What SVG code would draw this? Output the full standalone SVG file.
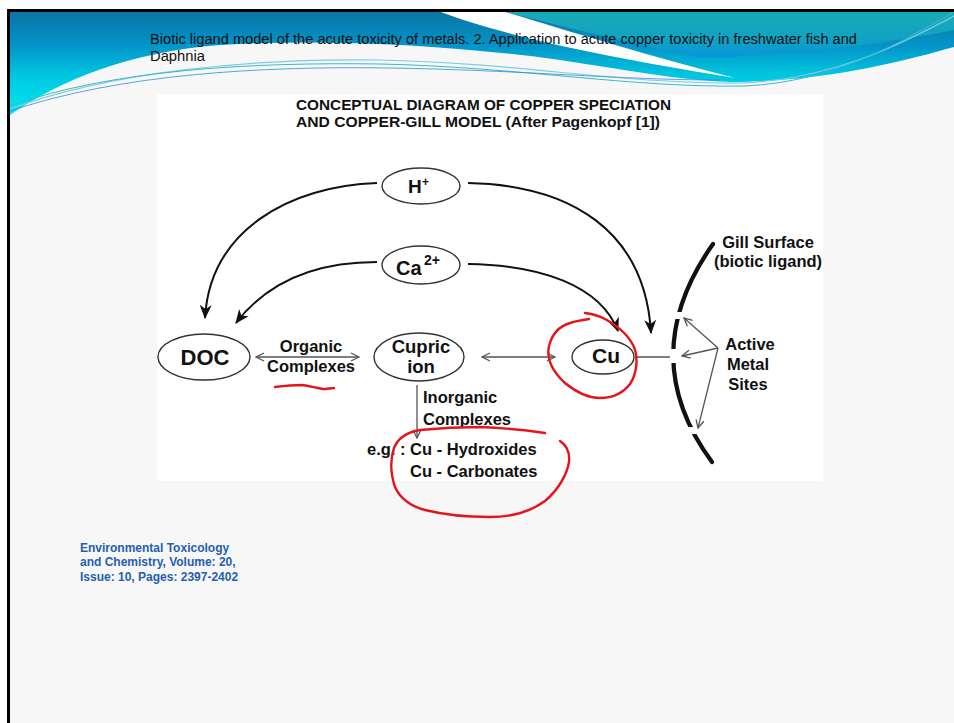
<svg xmlns="http://www.w3.org/2000/svg" width="954" height="723" viewBox="0 0 954 723">
<style>
text{font-family:"Liberation Sans",Arial,sans-serif;fill:#111}
.b{font-weight:bold}
.lbl{font-weight:bold;font-size:16.5px}
.node{fill:none;stroke:#333;stroke-width:1.4}
.curve{fill:none;stroke:#111;stroke-width:2;marker-end:url(#big)}
.thin{fill:none;stroke:#555;stroke-width:1.3}
.red{fill:none;stroke:#e5141a;stroke-width:2.4;stroke-linecap:round;stroke-linejoin:round}
.cite{font-weight:bold;font-size:12px;fill:#1f60b0}
</style>
<defs>
<linearGradient id="hdr" gradientUnits="userSpaceOnUse" x1="0" y1="11" x2="0" y2="112">
<stop offset="0" stop-color="#0a74a4"/>
<stop offset="0.35" stop-color="#0495c9"/>
<stop offset="0.62" stop-color="#00c4de"/>
<stop offset="1" stop-color="#00e8f2"/>
</linearGradient>
<linearGradient id="teal" gradientUnits="userSpaceOnUse" x1="0" y1="11" x2="0" y2="55">
<stop offset="0" stop-color="#19aab6"/>
<stop offset="0.55" stop-color="#12a4c0"/>
<stop offset="1" stop-color="#0a98d4"/>
</linearGradient>
<marker id="big" markerUnits="userSpaceOnUse" markerWidth="14" markerHeight="12" viewBox="0 0 14 12" refX="13" refY="6" orient="auto">
<path d="M0,0 L14,6 L0,12 L4,6 Z" fill="#111"/>
</marker>
<marker id="sm" markerUnits="userSpaceOnUse" markerWidth="10" markerHeight="10" viewBox="0 0 10 10" refX="9" refY="5" orient="auto-start-reverse">
<path d="M1,1 L9,5 L1,9" fill="none" stroke="#555" stroke-width="1.3"/>
</marker>
</defs>

<!-- slide background and frame -->
<rect x="0" y="0" width="954" height="723" fill="#ffffff"/>
<rect x="8" y="10" width="946" height="713" fill="#f7f7f7"/>

<!-- header swoosh -->
<g id="header">
<path d="M10,115 C60,80 130,52 220,45 C330,38 460,46 560,60 C640,72 690,82 740,82 C830,80 900,62 954,47 V11 H10 Z" fill="url(#hdr)"/>
<path d="M500,11 H954 V30 C880,45 790,55 700,58 C640,45 570,28 500,11 Z" fill="url(#teal)"/>
<path d="M438,11 L502,11 C565,30 645,55 735,78 C640,62 520,42 438,11 Z" fill="#ffffff"/>
<path d="M10,109 C110,72 250,58 380,60 C520,63 620,84 740,83 C830,80 900,45 954,16" fill="none" stroke="#7fcbe6" stroke-width="1.2"/>
<path d="M10,106 C110,70 250,62 380,64 C520,67 630,88 745,86 C835,82 905,40 954,12" fill="none" stroke="#3fb8c8" stroke-width="1"/>
<path d="M10,111 C120,74 260,66 390,68 C520,70 620,80 720,80" fill="none" stroke="#2f8fd0" stroke-width="0.8"/>
<text x="150" y="44" font-size="14" textLength="707" lengthAdjust="spacingAndGlyphs">Biotic ligand model of the acute toxicity of metals. 2. Application to acute copper toxicity in freshwater fish and</text>
<text x="150" y="61" font-size="14" textLength="55" lengthAdjust="spacingAndGlyphs">Daphnia</text>
</g>

<rect x="7" y="9" width="947" height="3" fill="#000"/>
<rect x="7" y="9" width="3" height="714" fill="#000"/>

<!-- diagram image area -->
<rect x="157" y="94" width="666" height="387" fill="#ffffff"/>
<text class="b" x="296" y="110" font-size="15" textLength="375" lengthAdjust="spacingAndGlyphs">CONCEPTUAL DIAGRAM OF COPPER SPECIATION</text>
<text class="b" x="296" y="127" font-size="15" textLength="364" lengthAdjust="spacingAndGlyphs">AND COPPER-GILL MODEL (After Pagenkopf [1])</text>

<!-- gill surface -->
<g id="gill">
<path d="M713,244 Q634,356 712,462" fill="none" stroke="#111" stroke-width="4.2" stroke-linecap="round"/>
<rect x="668" y="312" width="20" height="7" fill="#fff"/>
<rect x="662" y="349" width="22" height="14" fill="#fff"/>
<rect x="684" y="427" width="20" height="7" fill="#fff"/>
<text class="lbl" x="768" y="248" text-anchor="middle">Gill Surface</text>
<text class="lbl" x="768" y="267" text-anchor="middle">(biotic ligand)</text>
</g>

<!-- connectors -->
<g id="connectors">
<path class="curve" d="M377,183 C290,186 210,230 205,318"/>
<path class="curve" d="M377,262 C310,262 265,285 236,323"/>
<path class="curve" d="M468,183 C570,185 645,230 651,333"/>
<path class="curve" d="M468,264 C540,265 600,285 618,331"/>
<line class="thin" x1="256" y1="357" x2="359" y2="357" marker-start="url(#sm)" marker-end="url(#sm)"/>
<line class="thin" x1="482" y1="357" x2="555" y2="357" marker-start="url(#sm)" marker-end="url(#sm)"/>
<line class="thin" x1="635" y1="357" x2="670" y2="357"/>
<line class="thin" x1="417" y1="385" x2="417" y2="438" marker-end="url(#sm)"/>
<line class="thin" x1="718" y1="348" x2="684" y2="318" marker-end="url(#sm)"/>
<line class="thin" x1="718" y1="348" x2="682" y2="356" marker-end="url(#sm)"/>
<line class="thin" x1="718" y1="348" x2="698" y2="428" marker-end="url(#sm)"/>
</g>

<!-- nodes -->
<g id="node-h">
<ellipse class="node" cx="421" cy="186" rx="39" ry="18"/>
<text class="b" x="408" y="193" font-size="19">H</text>
<text class="b" x="422" y="186" font-size="12">+</text>
</g>
<g id="node-ca">
<ellipse class="node" cx="421" cy="265" rx="39" ry="19"/>
<text class="b" x="396" y="275" font-size="20">Ca</text>
<text class="b" x="424" y="265" font-size="14">2+</text>
</g>
<g id="node-doc">
<ellipse class="node" cx="204" cy="357" rx="46" ry="23"/>
<text class="b" x="205" y="365" font-size="22" text-anchor="middle">DOC</text>
</g>
<g id="node-cupric">
<ellipse class="node" cx="419" cy="357" rx="45" ry="24"/>
<text class="b" x="421" y="353" font-size="18.5" text-anchor="middle">Cupric</text>
<text class="b" x="421" y="373" font-size="18.5" text-anchor="middle">ion</text>
</g>
<g id="node-cu">
<ellipse class="node" cx="603" cy="357" rx="31" ry="17"/>
<text class="b" x="606" y="363" font-size="21" text-anchor="middle">Cu</text>
</g>

<!-- labels -->
<g id="label-organic">
<text class="lbl" x="311" y="352" text-anchor="middle">Organic</text>
<text class="lbl" x="311" y="372" text-anchor="middle">Complexes</text>
</g>
<g id="label-inorganic">
<text class="lbl" x="423" y="403">Inorganic</text>
<text class="lbl" x="423" y="425">Complexes</text>
<text class="lbl" x="367" y="455">e.g. : Cu - Hydroxides</text>
<text class="lbl" x="410" y="477">Cu - Carbonates</text>
</g>
<g id="label-active">
<text class="lbl" x="750" y="350" text-anchor="middle">Active</text>
<text class="lbl" x="748" y="370" text-anchor="middle">Metal</text>
<text class="lbl" x="748" y="390" text-anchor="middle">Sites</text>
</g>

<!-- red hand annotations -->
<g id="annotations">
<path class="red" d="M585,313 C592,314 600,316 605,319 C616,325 628,334 634,347 C639,360 636,375 630,384 C623,393 612,398 600,398 C588,398 576,392 565,383 C553,372 546,360 549,346 C552,334 560,326 570,323 C576,321 582,320 589,319"/>
<path class="red" d="M275,387 C283,386 292,385 302,385 C310,386 316,388 323,389 C327,389 331,388 334,388"/>
<path class="red" d="M545,433 C525,430 505,428 480,427 C460,427 440,428 420,430 C408,432 398,438 394,448 C390,460 391,475 395,487 C400,498 410,506 425,510 C445,515 465,517 490,517 C510,517 530,512 545,501 C558,490 567,475 569,462 C570,452 566,445 560,441"/>
</g>

<!-- citation -->
<g id="citation">
<text class="cite" x="80" y="552">Environmental Toxicology</text>
<text class="cite" x="80" y="566">and Chemistry, Volume: 20,</text>
<text class="cite" x="80" y="581">Issue: 10, Pages: 2397-2402</text>
</g>
</svg>
